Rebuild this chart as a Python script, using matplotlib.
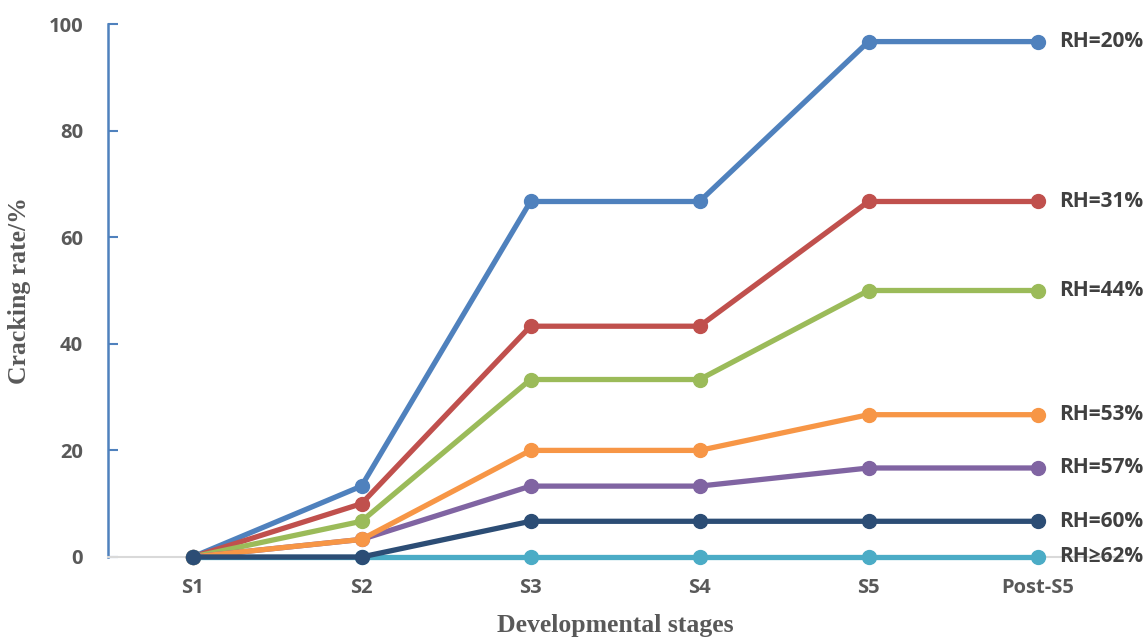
import matplotlib
matplotlib.use("Agg")
import matplotlib.pyplot as plt

stages = ["S1", "S2", "S3", "S4", "S5", "Post-S5"]

rh20 = [0, 13.3, 66.7, 66.7, 96.7, 96.7]
rh31 = [0, 10.0, 43.3, 43.3, 66.7, 66.7]
rh44 = [0, 6.7, 33.3, 33.3, 50.0, 50.0]
rh53 = [0, 3.3, 20.0, 20.0, 26.7, 26.7]
rh57 = [0, 3.3, 13.3, 13.3, 16.7, 16.7]
rh60 = [0, 0, 6.7, 6.7, 6.7, 6.7]
rh62 = [0, 0, 0, 0, 0, 0]

# drawing order matters for which marker sits on top
series = [
    ("RH=20%", rh20, "#4F81BD"),
    ("RH=31%", rh31, "#C0504D"),
    ("RH=44%", rh44, "#9BBB59"),
    ("RH=57%", rh57, "#8064A2"),
    ("RH=53%", rh53, "#F79646"),
    ("RH\u226562%", rh62, "#4BACC6"),
    ("RH=60%", rh60, "#2C4D75"),
]

fig = plt.figure(figsize=(11.46, 6.37), dpi=100)
ax = fig.add_axes([108 / 1146, 80 / 637, (1122 - 108) / 1146, (557 - 24) / 637])

x = list(range(len(stages)))
for label, vals, color in series:
    ax.plot(x, vals, color=color, lw=3.8, marker="o", ms=10, zorder=3,
            solid_capstyle="round", clip_on=False)
    ax.text(x[-1] + 0.13, vals[-1], label, ha="left", va="center",
            fontsize=15, fontweight="bold", color="#404040",
            family="Open Sans")

ax.set_xlim(-0.5, 5.5)
ax.set_ylim(0, 100)
ax.set_xticks(x)
ax.set_xticklabels(stages)
ax.set_yticks(range(0, 101, 20))

for lab in ax.get_xticklabels() + ax.get_yticklabels():
    lab.set_fontfamily("Open Sans")
    lab.set_fontweight("bold")
    lab.set_fontsize(14.5)
    lab.set_color("#595959")

ax.tick_params(axis="x", length=0, pad=15)
ax.tick_params(axis="y", direction="in", length=7, width=1.5, color="#4F81BD", pad=18)

for s in ["top", "right"]:
    ax.spines[s].set_visible(False)
ax.spines["left"].set_color("#4F81BD")
ax.spines["left"].set_linewidth(1.8)
ax.spines["bottom"].set_color("#D9D9D9")
ax.spines["bottom"].set_linewidth(1.5)

ax.set_ylabel("Cracking rate/%", family="Liberation Serif", fontweight="bold",
              fontsize=18.5, color="#595959", va="center")
ax.yaxis.set_label_coords(-0.0868, 0.5)
ax.set_xlabel("Developmental stages", family="Liberation Serif", fontweight="bold",
              fontsize=18.5, color="#595959", va="center")
ax.xaxis.set_label_coords(0.5, -0.128)

fig.savefig("out.png", dpi=100)
